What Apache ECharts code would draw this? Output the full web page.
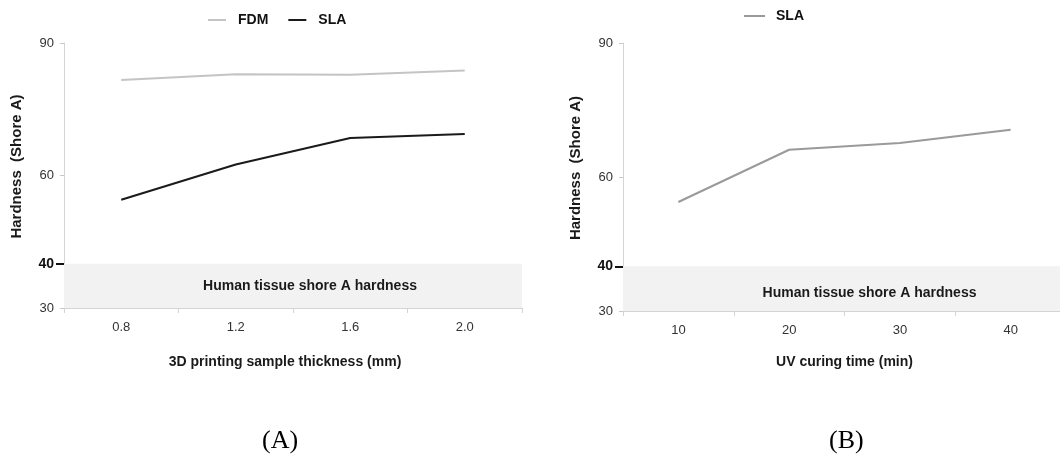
<!DOCTYPE html>
<html>
<head>
<meta charset="utf-8">
<script src="https://cdn.jsdelivr.net/npm/echarts@6/dist/echarts.min.js"></script>
<style>
  html, body { margin: 0; padding: 0; background: #ffffff; }
  #chart { width: 1060px; height: 462px; }
</style>
</head>
<body>
<div id="chart"></div>
<script>
// Panel A: hardness vs. printed sample thickness
const thicknessLabels = ['0.8', '1.2', '1.6', '2.0'];
const fdmHardness = [81.6, 82.9, 82.8, 83.8];
const slaHardnessByThickness = [54.5, 62.5, 68.5, 69.4];

// Panel B: hardness vs. UV curing time
const curingTimeLabels = ['10', '20', '30', '40'];
const slaHardnessByCuring = [54.4, 66.1, 67.6, 70.6];

// Hardness axis
const hardnessMin = 30;
const hardnessMax = 90;
const hardnessTicks = [30, 60, 90];
const tissueThreshold = 40;
const tissueBand = [30, 40];

const FONT = '"Liberation Sans", Arial, sans-serif';
const axisGray = '#d4d4d4';
const labelGray = '#333333';

function xAxisFor(gridIndex, data, name, namePad, nameGap) {
  return {
    type: 'category', gridIndex, data, boundaryGap: true,
    axisLine: { show: true, lineStyle: { color: axisGray, width: 1 } },
    axisTick: { show: true, interval: 0, length: 5, lineStyle: { color: axisGray } },
    axisLabel: { color: labelGray, fontSize: 13, fontFamily: FONT, margin: 13 },
    splitLine: { show: false },
    name, nameLocation: 'middle', nameGap,
    nameTextStyle: { color: '#1a1a1a', fontSize: 14, fontWeight: 'bold', fontFamily: FONT, padding: namePad }
  };
}

function yAxesFor(gridIndex) {
  return [
    {
      type: 'value', gridIndex, position: 'left', min: hardnessMin, max: hardnessMax,
      axisLine: { show: true, lineStyle: { color: axisGray, width: 1 } },
      axisTick: { show: true, customValues: hardnessTicks, length: 4, lineStyle: { color: '#c8c8c8' } },
      axisLabel: { customValues: hardnessTicks, color: labelGray, fontSize: 13, fontFamily: FONT, margin: 10 },
      splitLine: { show: false },
      name: 'Hardness  (Shore A)', nameLocation: 'middle', nameGap: 40,
      nameTextStyle: { color: '#1a1a1a', fontSize: 15, fontWeight: 'bold', fontFamily: FONT, padding: [0, 0, 0, 18] }
    },
    {
      // threshold marker at 40 Shore A
      type: 'value', gridIndex, position: 'left', offset: 0, min: hardnessMin, max: hardnessMax,
      axisLine: { show: false, onZero: false },
      axisTick: { show: true, customValues: [tissueThreshold], length: 8, lineStyle: { color: '#111111', width: 2 } },
      axisLabel: { customValues: [tissueThreshold], color: '#111111', fontSize: 14, fontWeight: 'bold', fontFamily: FONT, margin: 10 },
      splitLine: { show: false }
    }
  ];
}

function tissueArea(offset) {
  return {
    silent: true,
    itemStyle: { color: '#f2f2f2' },
    label: {
      show: true, position: 'inside', offset,
      formatter: 'Human tissue shore A hardness',
      color: '#1a1a1a', fontSize: 14, fontWeight: 'bold', fontFamily: FONT
    },
    data: [[{ yAxis: tissueBand[0] }, { yAxis: tissueBand[1] }]]
  };
}

const chart = echarts.init(document.getElementById('chart'), null, { renderer: 'canvas' });

chart.setOption({
  backgroundColor: '#ffffff',
  animation: false,
  textStyle: { fontFamily: FONT },
  grid: [
    { left: 64, top: 43, width: 458, height: 265, outerBoundsMode: 'none', containLabel: false },
    { left: 623, top: 43, width: 443, height: 268, outerBoundsMode: 'none', containLabel: false }
  ],
  legend: [
    {
      left: 203, top: 8, icon: 'rect', itemWidth: 18, itemHeight: 2, itemGap: 20,
      data: ['FDM', 'SLA'],
      textStyle: { color: '#111111', fontSize: 14, fontWeight: 'bold', fontFamily: FONT, padding: [0, 0, 0, 7] }
    },
    {
      left: 739, top: 4, icon: 'rect', itemWidth: 21, itemHeight: 2,
      data: [{ name: 'SLA ', itemStyle: { color: '#9a9a9a' } }],
      textStyle: { color: '#111111', fontSize: 14, fontWeight: 'bold', fontFamily: FONT, padding: [0, 0, 0, 6] }
    }
  ],
  xAxis: [
    xAxisFor(0, thicknessLabels, '3D printing sample thickness (mm)', [0, 16, 0, 0], 47),
    xAxisFor(1, curingTimeLabels, 'UV curing time (min)', 0, 44)
  ],
  yAxis: [...yAxesFor(0), ...yAxesFor(1)],
  series: [
    {
      name: 'FDM', type: 'line', xAxisIndex: 0, yAxisIndex: 0,
      data: fdmHardness, showSymbol: false, symbol: 'none',
      color: '#c4c4c4', lineStyle: { color: '#c4c4c4', width: 2 },
      markArea: tissueArea([17, 0])
    },
    {
      name: 'SLA', type: 'line', xAxisIndex: 0, yAxisIndex: 0,
      data: slaHardnessByThickness, showSymbol: false, symbol: 'none',
      color: '#1a1a1a', lineStyle: { color: '#1a1a1a', width: 2 }
    },
    {
      name: 'SLA ', type: 'line', xAxisIndex: 1, yAxisIndex: 2,
      data: slaHardnessByCuring, showSymbol: false, symbol: 'none',
      color: '#9a9a9a', lineStyle: { color: '#9a9a9a', width: 2 },
      markArea: tissueArea([25, 4])
    }
  ],
  graphic: [
    {
      type: 'text', left: 262, top: 428,
      style: { text: '(A)', fill: '#000000', font: '26px "Liberation Serif", "Times New Roman", serif' }
    },
    {
      type: 'text', left: 829, top: 428,
      style: { text: '(B)', fill: '#000000', font: '26px "Liberation Serif", "Times New Roman", serif' }
    }
  ]
});
</script>
</body>
</html>
